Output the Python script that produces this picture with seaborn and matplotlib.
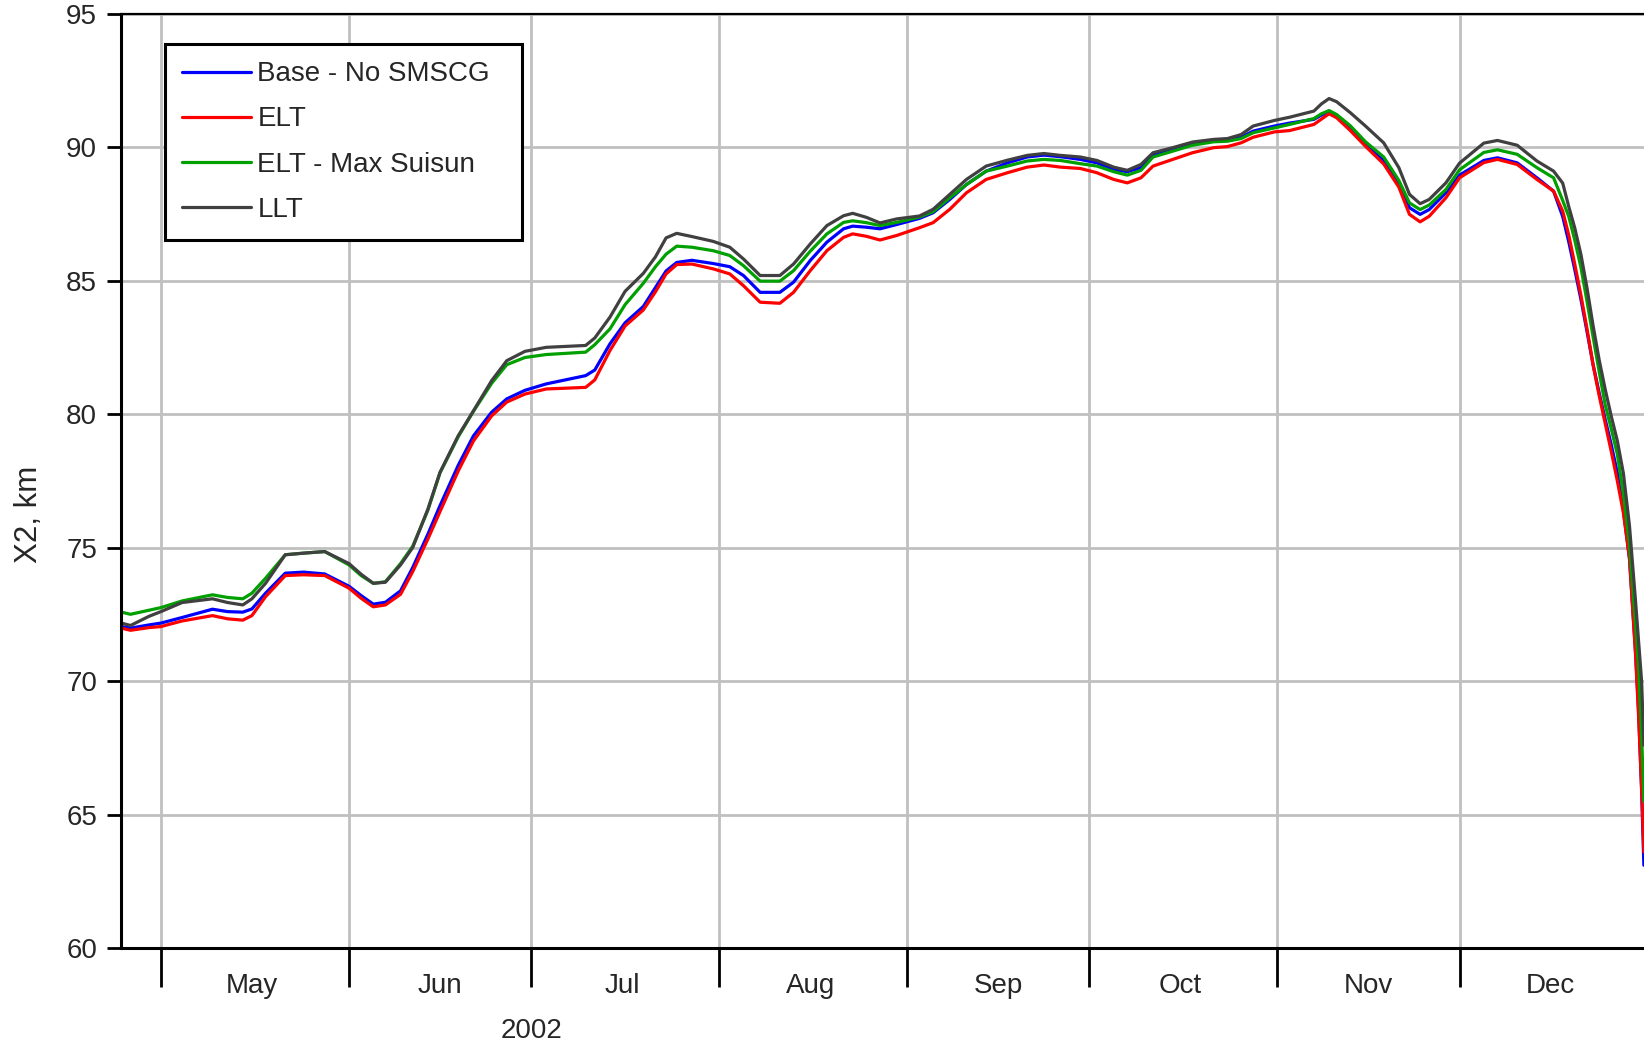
import pandas as pd
import numpy as np
import matplotlib
matplotlib.use('Agg')
import matplotlib.pyplot as plt
import matplotlib.dates as mdates
import seaborn as sns

# X2 position (km), Apr 24 - Dec 31 2002
dates = [
    "2002-04-24 12:00", "2002-04-26", "2002-04-29", "2002-05-01", "2002-05-04 12:00",
    "2002-05-09 12:00", "2002-05-12", "2002-05-14 12:00", "2002-05-16", "2002-05-18 06:00",
    "2002-05-21 12:00", "2002-05-24 12:00", "2002-05-28", "2002-06-01", "2002-06-03",
    "2002-06-05", "2002-06-07", "2002-06-09 12:00", "2002-06-11 12:00", "2002-06-14",
    "2002-06-16", "2002-06-19", "2002-06-21 12:00", "2002-06-24 12:00", "2002-06-27",
    "2002-06-30", "2002-07-03 12:00", "2002-07-10", "2002-07-11 12:00", "2002-07-14",
    "2002-07-16 12:00", "2002-07-19 12:00", "2002-07-21 12:00", "2002-07-23 06:00", "2002-07-25",
    "2002-07-27 12:00", "2002-07-31", "2002-08-02 18:00", "2002-08-05", "2002-08-07 18:00",
    "2002-08-11", "2002-08-13 06:00", "2002-08-16", "2002-08-18 18:00", "2002-08-21 12:00",
    "2002-08-23", "2002-08-25 06:00", "2002-08-27 12:00", "2002-08-30 06:00", "2002-09-03",
    "2002-09-05 06:00", "2002-09-08", "2002-09-10 18:00", "2002-09-14", "2002-09-17 12:00",
    "2002-09-20 18:00", "2002-09-23 12:00", "2002-09-26 06:00", "2002-09-29 12:00", "2002-10-02 06:00",
    "2002-10-05", "2002-10-07 06:00", "2002-10-09 12:00", "2002-10-11 12:00", "2002-10-14 18:00",
    "2002-10-18", "2002-10-21 12:00", "2002-10-23 18:00", "2002-10-26", "2002-10-28",
    "2002-10-31 12:00", "2002-11-03", "2002-11-07", "2002-11-08 06:00", "2002-11-09 12:00",
    "2002-11-10 18:00", "2002-11-13", "2002-11-15 12:00", "2002-11-18 12:00", "2002-11-21",
    "2002-11-22 18:00", "2002-11-24 12:00", "2002-11-26", "2002-11-28 18:00", "2002-12-01",
    "2002-12-05", "2002-12-07 06:00", "2002-12-10 12:00", "2002-12-13 18:00", "2002-12-16 12:00",
    "2002-12-18", "2002-12-19", "2002-12-20", "2002-12-21", "2002-12-22",
    "2002-12-23", "2002-12-24", "2002-12-25", "2002-12-26", "2002-12-27",
    "2002-12-28", "2002-12-29", "2002-12-30", "2002-12-30 12:00", "2002-12-31",
    "2002-12-31 09:00",
]

base_no_smscg = [
    72.04, 71.98, 72.10, 72.17, 72.38,
    72.69, 72.60, 72.58, 72.70, 73.29,
    74.04, 74.08, 74.01, 73.55, 73.20,
    72.88, 72.95, 73.38, 74.25, 75.50,
    76.57, 78.08, 79.18, 80.07, 80.57,
    80.89, 81.13, 81.44, 81.65, 82.63,
    83.42, 84.03, 84.74, 85.36, 85.68,
    85.76, 85.64, 85.52, 85.19, 84.56,
    84.56, 84.94, 85.75, 86.44, 86.94,
    87.04, 87.00, 86.94, 87.10, 87.33,
    87.54, 88.04, 88.60, 89.10, 89.41,
    89.63, 89.70, 89.64, 89.54, 89.41,
    89.16, 89.08, 89.23, 89.70, 89.91,
    90.10, 90.25, 90.26, 90.37, 90.60,
    90.79, 90.90, 91.04, 91.20, 91.32,
    91.20, 90.75, 90.15, 89.50, 88.62,
    87.73, 87.48, 87.66, 88.29, 88.95,
    89.50, 89.60, 89.41, 88.85, 88.35,
    87.40, 86.45, 85.40, 84.30, 83.10,
    81.86, 80.80, 79.80, 78.85, 77.80,
    76.40, 74.60, 71.10, 68.90, 65.90,
    63.10,
]

elt = [
    71.98, 71.90, 72.00, 72.04, 72.25,
    72.45, 72.33, 72.28, 72.45, 73.16,
    73.95, 73.98, 73.95, 73.48, 73.10,
    72.78, 72.85, 73.25, 74.10, 75.32,
    76.35, 77.87, 78.99, 79.93, 80.45,
    80.75, 80.94, 81.00, 81.28, 82.38,
    83.30, 83.90, 84.58, 85.25, 85.60,
    85.62, 85.44, 85.25, 84.81, 84.19,
    84.15, 84.56, 85.37, 86.12, 86.62,
    86.75, 86.66, 86.52, 86.69, 86.98,
    87.17, 87.67, 88.29, 88.79, 89.04,
    89.25, 89.33, 89.25, 89.20, 89.04,
    88.79, 88.66, 88.85, 89.29, 89.54,
    89.79, 89.98, 90.02, 90.16, 90.37,
    90.57, 90.62, 90.85, 91.05, 91.25,
    91.10, 90.62, 90.03, 89.37, 88.50,
    87.48, 87.20, 87.41, 88.10, 88.85,
    89.42, 89.54, 89.35, 88.79, 88.35,
    87.60, 86.70, 85.60, 84.45, 83.20,
    81.85, 80.70, 79.65, 78.60, 77.50,
    76.30, 74.60, 71.00, 68.70, 66.00,
    63.60,
]

elt_max_suisun = [
    72.58, 72.50, 72.65, 72.75, 73.00,
    73.23, 73.13, 73.08, 73.29, 73.85,
    74.73, 74.79, 74.85, 74.35, 73.95,
    73.66, 73.72, 74.40, 75.05, 76.40,
    77.80, 79.15, 80.10, 81.15, 81.85,
    82.12, 82.23, 82.32, 82.60, 83.19,
    84.10, 84.90, 85.52, 85.99, 86.29,
    86.25, 86.12, 85.94, 85.56, 84.98,
    84.98, 85.37, 86.10, 86.75, 87.18,
    87.24, 87.17, 87.06, 87.18, 87.38,
    87.58, 88.10, 88.60, 89.10, 89.29,
    89.48, 89.54, 89.50, 89.38, 89.29,
    89.08, 88.95, 89.13, 89.63, 89.85,
    90.07, 90.20, 90.22, 90.32, 90.54,
    90.72, 90.85, 91.07, 91.25, 91.37,
    91.22, 90.80, 90.20, 89.63, 88.75,
    87.91, 87.66, 87.83, 88.41, 89.15,
    89.80, 89.90, 89.73, 89.23, 88.85,
    88.00, 87.40, 86.50, 85.50, 84.23,
    82.90, 81.60, 80.35, 79.45, 78.50,
    77.00, 75.10, 72.10, 70.50, 68.00,
    65.50,
]

llt = [
    72.17, 72.08, 72.42, 72.60, 72.94,
    73.08, 72.94, 72.85, 73.08, 73.66,
    74.73, 74.79, 74.85, 74.40, 74.00,
    73.66, 73.70, 74.35, 75.00, 76.44,
    77.82, 79.19, 80.12, 81.25, 82.00,
    82.35, 82.50, 82.57, 82.85, 83.63,
    84.60, 85.27, 85.89, 86.60, 86.77,
    86.65, 86.47, 86.25, 85.81, 85.19,
    85.19, 85.62, 86.37, 87.06, 87.43,
    87.52, 87.37, 87.16, 87.31, 87.42,
    87.67, 88.23, 88.79, 89.29, 89.51,
    89.69, 89.76, 89.69, 89.63, 89.50,
    89.25, 89.13, 89.35, 89.79, 89.98,
    90.19, 90.29, 90.32, 90.47, 90.79,
    91.00, 91.12, 91.35, 91.62, 91.82,
    91.70, 91.29, 90.79, 90.16, 89.23,
    88.23, 87.88, 88.04, 88.66, 89.40,
    90.15, 90.25, 90.07, 89.48, 89.10,
    88.65, 87.77, 86.96, 85.98, 84.73,
    83.32, 82.04, 80.93, 79.92, 79.00,
    77.78, 75.82, 73.00, 71.50, 70.00,
    67.60,
]

scenarios = ['Base - No SMSCG', 'ELT', 'ELT - Max Suisun', 'LLT']
colors = ['#0000ff', '#ff0000', '#00a000', '#404040']
y_ticks = [60, 65, 70, 75, 80, 85, 90, 95]


def main():
    sns.set_style('white')
    plt.rcParams['font.family'] = ['Liberation Sans', 'DejaVu Sans']

    df = pd.DataFrame({
        'date': pd.to_datetime(dates, format='mixed'),
        'Base - No SMSCG': base_no_smscg,
        'ELT': elt,
        'ELT - Max Suisun': elt_max_suisun,
        'LLT': llt,
    })
    long_df = df.melt(id_vars='date', var_name='scenario', value_name='x2')

    fig = plt.figure(figsize=(16.44, 10.49), dpi=100)
    ax = fig.add_axes([0.0734, 0.0963, 0.9266, 0.8907])

    sns.lineplot(data=long_df, x='date', y='x2', hue='scenario',
                 hue_order=scenarios, palette=colors, linewidth=2.3,
                 estimator=None, ax=ax)

    ax.set_xlim(pd.Timestamp('2002-04-24 09:00'), pd.Timestamp('2002-12-31 09:30'))
    ax.set_ylim(60, 95)
    ax.set_yticks(y_ticks)

    # month boundaries as long ticks, month names centred between them
    ax.xaxis.set_major_locator(mdates.MonthLocator())
    ax.xaxis.set_major_formatter(plt.NullFormatter())
    ax.xaxis.set_minor_locator(mdates.MonthLocator(bymonthday=16))
    ax.xaxis.set_minor_formatter(mdates.DateFormatter('%b'))
    ax.tick_params(axis='x', which='major', bottom=True, length=28, width=2,
                   direction='out', color='black')
    ax.tick_params(axis='x', which='minor', bottom=True, length=0, pad=18,
                   labelsize=20)
    ax.tick_params(axis='y', left=True, length=10, width=2, pad=7,
                   labelsize=20, color='black')

    ax.grid(True, which='major', color='#c0c0c0', linewidth=2)
    ax.set_axisbelow(True)

    for side in ['left', 'bottom']:
        ax.spines[side].set_linewidth(2.2)
        ax.spines[side].set_color('black')
    ax.spines['top'].set_linewidth(1.6)
    ax.spines['top'].set_color('black')
    ax.spines['right'].set_visible(False)

    ax.set_xlabel('')
    ax.set_ylabel('X2, km', fontsize=22.5, va='center')
    ax.yaxis.set_label_coords(-0.0605, 0.4645)

    ax.text(mdates.date2num(pd.Timestamp('2002-07-01')), -0.0884, '2002',
            transform=ax.get_xaxis_transform(), ha='center', va='center',
            fontsize=20)

    handles, labels = ax.get_legend_handles_labels()
    leg = ax.legend(handles, labels, loc='upper left',
                    bbox_to_anchor=(0.0289, 0.7676, 0.2346, 0.1998),
                    mode='expand', borderaxespad=0, frameon=True,
                    fancybox=False, edgecolor='black', framealpha=1,
                    fontsize=20, handlelength=2.5, handletextpad=0.22,
                    labelspacing=0.69, borderpad=0.62)
    leg.get_frame().set_linewidth(2.2)

    fig.savefig('out.png', dpi=100)


if __name__ == "__main__":
    main()
